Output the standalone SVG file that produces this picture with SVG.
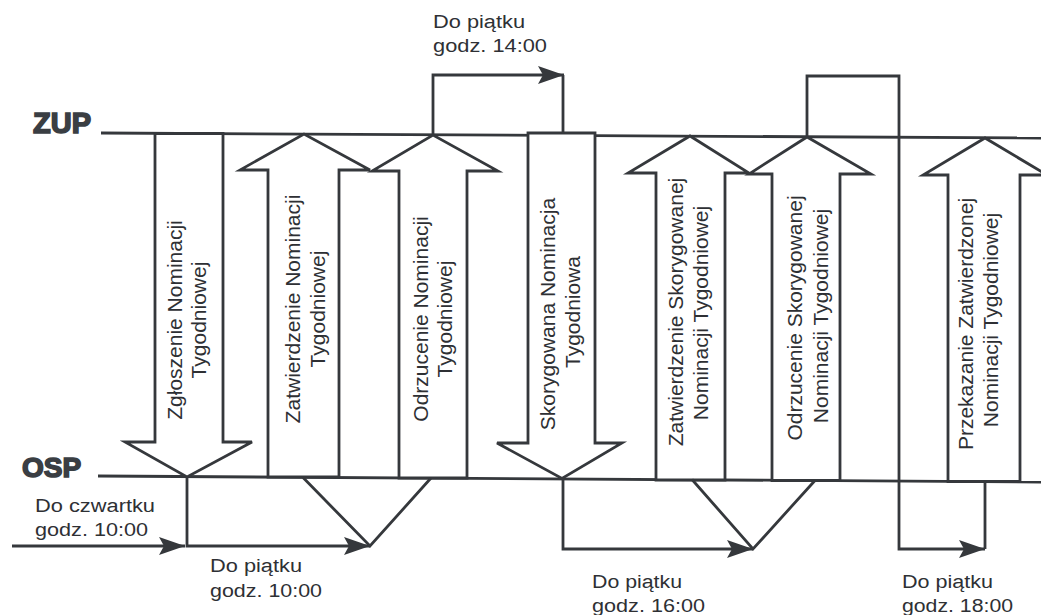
<svg xmlns="http://www.w3.org/2000/svg" width="1041" height="615" viewBox="0 0 1041 615">
<style>
.ln{fill:none;stroke:#35383c;stroke-width:2.8;stroke-linejoin:miter}
.ar{fill:#fff;stroke:#35383c;stroke-width:2.8;stroke-linejoin:miter}
.lane{font-family:"Liberation Sans",Arial,sans-serif;font-weight:bold;fill:#3a3e43;stroke:#3a3e43;stroke-width:1.6}
.vt{font-family:"Liberation Sans",Arial,sans-serif;font-size:21px;fill:#2e3034;text-anchor:middle}
.ht{font-family:"Liberation Sans",Arial,sans-serif;font-size:18px;fill:#2e3034}
</style>
<defs>
<marker id="ah" markerUnits="userSpaceOnUse" markerWidth="28" markerHeight="20" refX="26" refY="10" orient="auto">
<path d="M0,1 L26,10 L0,19 L5,10 Z" fill="#35383c"/>
</marker>
</defs>
<rect width="1041" height="615" fill="#fff"/>

<g id="lane-zup">
<text class="lane" x="33" y="133" font-size="29">ZUP</text>
<line class="ln" x1="101" y1="133" x2="1041" y2="138"/>
</g>
<g id="lane-osp">
<text class="lane" x="22" y="477" font-size="28">OSP</text>
<line class="ln" x1="98" y1="476" x2="1041" y2="482"/>
</g>

<g id="n1">
<polygon class="ar" points="155,133.5 155,442 125,442 187,477 252,442 223,442 223,133.5"/>
<text class="vt" transform="translate(182,320) rotate(-90)">Zgłoszenie Nominacji</text>
<text class="vt" transform="translate(206,320) rotate(-90)">Tygodniowej</text>
</g>
<g id="n2">
<polygon class="ar" points="268,477 268,170 240,170 304,134 370,170 339,170 339,477"/>
<text class="vt" transform="translate(300,309) rotate(-90)">Zatwierdzenie Nominacji</text>
<text class="vt" transform="translate(325,309) rotate(-90)">Tygodniowej</text>
</g>
<g id="n3">
<polygon class="ar" points="399,478 399,171 372,171 433,135 498,171 467,171 467,478"/>
<text class="vt" transform="translate(428,319) rotate(-90)">Odrzucenie Nominacji</text>
<text class="vt" transform="translate(452,319) rotate(-90)">Tygodniowej</text>
</g>
<g id="n4">
<polygon class="ar" points="528,133 528,443 497,443 562,478.5 622,443 595,443 595,133"/>
<text class="vt" transform="translate(555,314) rotate(-90)">Skorygowana Nominacja</text>
<text class="vt" transform="translate(580,312) rotate(-90)">Tygodniowa</text>
</g>
<g id="n5">
<polygon class="ar" points="656,480 656,173 628,173 690,136 749,173 725,173 725,480"/>
<text class="vt" transform="translate(683,312) rotate(-90)">Zatwierdzenie Skorygowanej</text>
<text class="vt" transform="translate(708,313) rotate(-90)">Nominacji Tygodniowej</text>
</g>
<g id="n6">
<polygon class="ar" points="772,480.5 772,174 749,174 807,137 871,174 840,174 840,480.5"/>
<text class="vt" transform="translate(802,318) rotate(-90)">Odrzucenie Skorygowanej</text>
<text class="vt" transform="translate(828,316) rotate(-90)">Nominacji Tygodniowej</text>
</g>
<g id="n7">
<polygon class="ar" points="948,481.5 948,175 923,175 985,138 1047,175 1020,175 1020,481.5"/>
<text class="vt" transform="translate(973,324) rotate(-90)">Przekazanie Zatwierdzonej</text>
<text class="vt" transform="translate(998,320) rotate(-90)">Nominacji Tygodniowej</text>
</g>

<g id="connectors">
<path class="ln" d="M12,546 H185" marker-end="url(#ah)"/>
<path class="ln" d="M187,477 V546 H370" marker-end="url(#ah)"/>
<path class="ln" d="M303,477.5 L370,546 L431,478"/>
<path class="ln" d="M433,135 V75 H564" marker-end="url(#ah)"/>
<path class="ln" d="M563,75 V134"/>
<path class="ln" d="M563,479 V549 H753" marker-end="url(#ah)"/>
<path class="ln" d="M692,479.5 L753,549 L815,480.5"/>
<path class="ln" d="M807,137 V76 H899 V549 H985" marker-end="url(#ah)"/>
<path class="ln" d="M985,549 V481.5"/>
</g>

<g id="labels">
<text class="ht" x="433" y="28" textLength="92" lengthAdjust="spacingAndGlyphs">Do piątku</text>
<text class="ht" x="433" y="52" textLength="114" lengthAdjust="spacingAndGlyphs">godz. 14:00</text>
<text class="ht" x="35" y="512" textLength="120" lengthAdjust="spacingAndGlyphs">Do czwartku</text>
<text class="ht" x="35" y="536" textLength="113" lengthAdjust="spacingAndGlyphs">godz. 10:00</text>
<text class="ht" x="210" y="572" textLength="92" lengthAdjust="spacingAndGlyphs">Do piątku</text>
<text class="ht" x="210" y="597" textLength="112" lengthAdjust="spacingAndGlyphs">godz. 10:00</text>
<text class="ht" x="592" y="588" textLength="90" lengthAdjust="spacingAndGlyphs">Do piątku</text>
<text class="ht" x="592" y="612" textLength="113" lengthAdjust="spacingAndGlyphs">godz. 16:00</text>
<text class="ht" x="902" y="588" textLength="91" lengthAdjust="spacingAndGlyphs">Do piątku</text>
<text class="ht" x="902" y="612" textLength="111" lengthAdjust="spacingAndGlyphs">godz. 18:00</text>
</g>
</svg>
